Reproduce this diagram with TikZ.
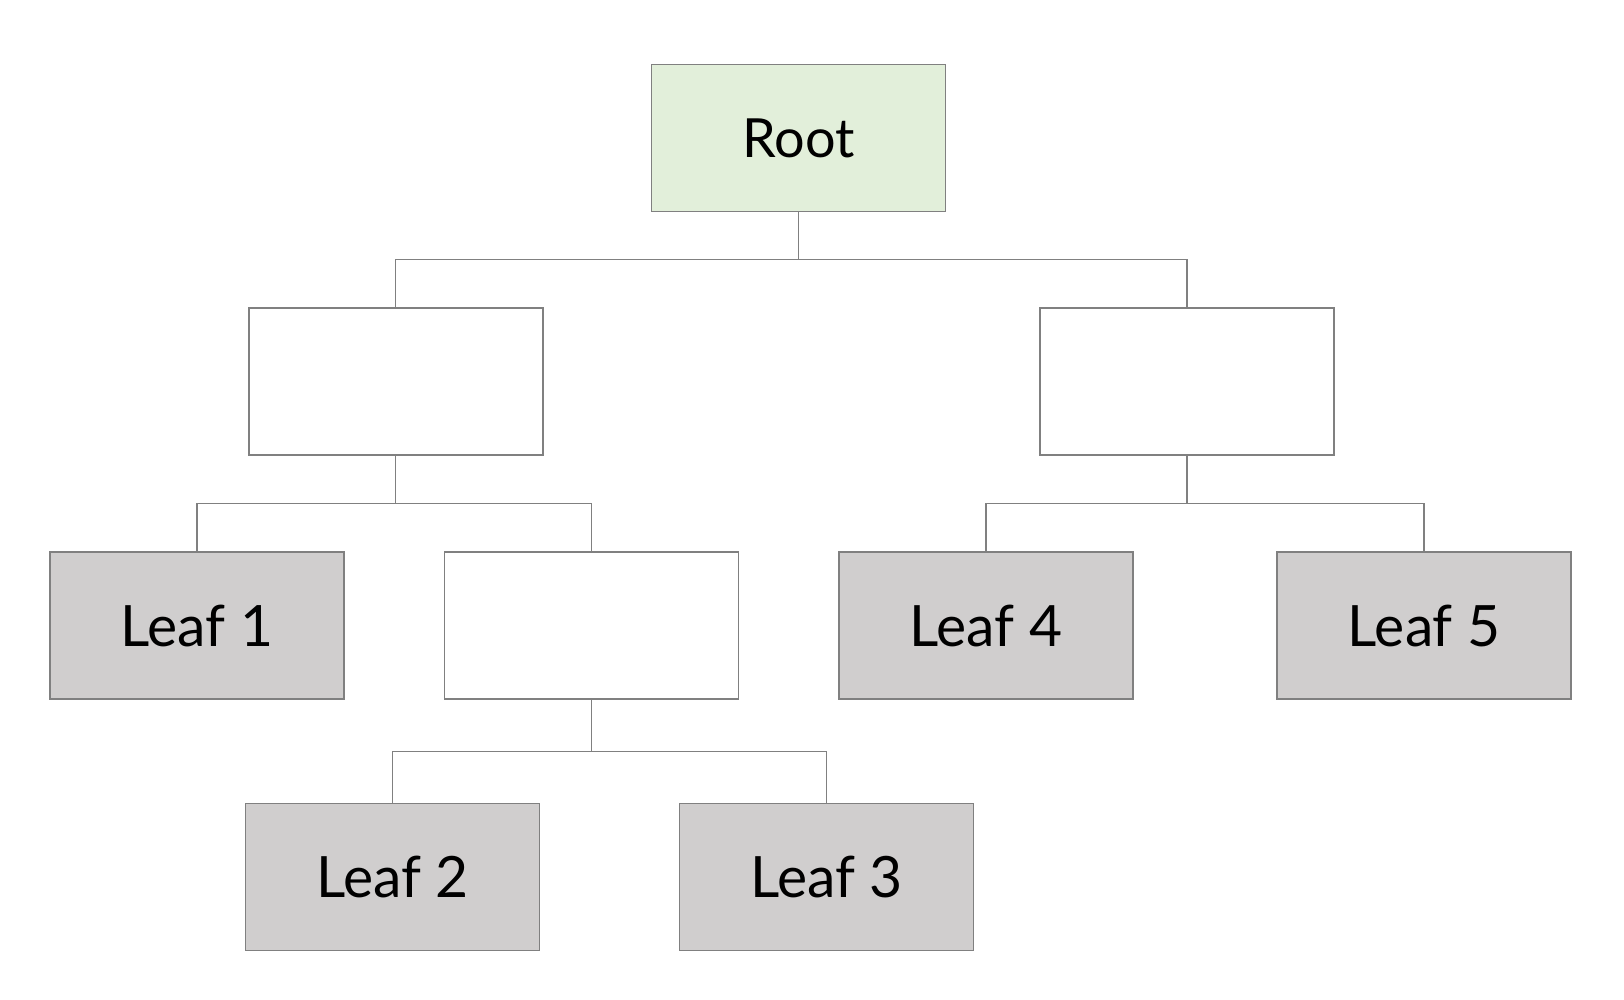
\documentclass[tikz,border=0pt]{standalone}
\usepackage{fontspec}
\setmainfont{Lato}
\definecolor{rootfill}{RGB}{226,239,218}
\definecolor{leaffill}{RGB}{208,206,206}
\definecolor{edge}{RGB}{128,128,128}
\begin{document}
\begin{tikzpicture}[x=1pt,y=1pt,
  box/.style={draw=edge, line width=1.6pt, minimum width=294pt, minimum height=147pt, inner sep=0pt, anchor=center},
  rootbox/.style={box, fill=rootfill, font=\fontsize{54}{64}\selectfont},
  leafbox/.style={box, fill=leaffill, font=\fontsize{57}{68}\selectfont},
  innerbox/.style={box, fill=white},
  conn/.style={draw=edge, line width=1.5pt}]
\useasboundingbox[fill=white] (0,0) rectangle (1624,-1000);
\node[rootbox] (root) at (798.6,-138) {\raisebox{-3pt}{Root}};
\node[innerbox] (m1) at (395.7,-381.4) {};
\node[innerbox] (m2) at (1187,-381.4) {};
\node[leafbox] (l1) at (196.8,-625.6) {\raisebox{-3pt}{Leaf 1}};
\node[innerbox] (m3) at (591.4,-625.6) {};
\node[leafbox] (l4) at (986,-625.6) {\raisebox{-3pt}{Leaf 4}};
\node[leafbox] (l5) at (1424.1,-625.6) {\raisebox{-3pt}{Leaf 5}};
\node[leafbox] (l2) at (392.5,-877) {\raisebox{-3pt}{Leaf 2}};
\node[leafbox] (l3) at (826.5,-877) {\raisebox{-3pt}{Leaf 3}};
\coordinate (j0) at (798.6,-259.3);
\coordinate (j1) at (395.7,-503.6);
\coordinate (j2) at (1187,-503.6);
\coordinate (j3) at (591.4,-751.3);
\draw[conn] (root.south) -- (j0);
\draw[conn] (j0) -| (m1.north);
\draw[conn] (j0) -| (m2.north);
\draw[conn] (m1.south) -- (j1);
\draw[conn] (j1) -| (l1.north);
\draw[conn] (j1) -| (m3.north);
\draw[conn] (m2.south) -- (j2);
\draw[conn] (j2) -| (l4.north);
\draw[conn] (j2) -| (l5.north);
\draw[conn] (m3.south) -- (j3);
\draw[conn] (j3) -| (l2.north);
\draw[conn] (j3) -| (l3.north);
\end{tikzpicture}
\end{document}
